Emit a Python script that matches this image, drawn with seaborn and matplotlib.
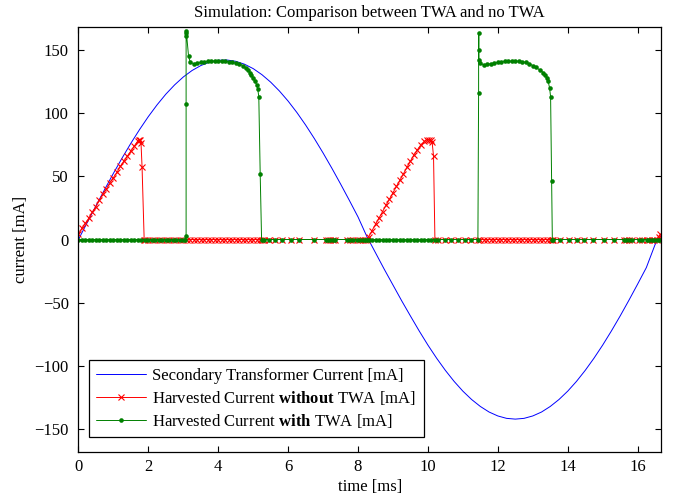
import numpy as np
import pandas as pd
import seaborn as sns
import matplotlib.pyplot as plt

# secondary transformer current (blue) [ms], [mA]
t_sec = [0.0, 0.25, 0.5, 0.75, 1.0, 1.25, 1.5, 1.75, 2.0, 2.25, 2.5, 2.75, 3.0, 3.25, 3.5, 3.75,
         4.0, 4.25, 4.5, 4.75, 5.0, 5.25, 5.5, 5.75, 6.0, 6.25, 6.5, 6.75, 7.0, 7.25, 7.5, 7.75,
         8.0, 8.25, 8.5, 8.75, 9.0, 9.25, 9.5, 9.75, 10.0, 10.25, 10.5, 10.75, 11.0, 11.25,
         11.5, 11.75, 12.0, 12.25, 12.5, 12.75, 13.0, 13.25, 13.5, 13.75, 14.0, 14.25, 14.5,
         14.75, 15.0, 15.25, 15.5, 15.75, 16.0, 16.25, 16.5, 16.67]
i_sec = [0, 13.4, 26.6, 39.6, 52.3, 64.5, 76.1, 87.0, 97.2, 106.5, 114.9, 122.2, 128.5, 133.6,
         137.5, 140.3, 141.7, 141.9, 140.9, 138.6, 135.1, 130.3, 124.4, 117.4, 109.4, 100.4,
         90.5, 79.8, 68.4, 56.4, 43.9, 31.0, 17.8, 2.5, -10.5, -23.5, -36, -48.5, -60.5, -72.3,
         -83.5, -93.9, -103.5, -112.2, -119.9, -126.5, -132.0, -136.4, -139.5, -141.4, -142,
         -141.4, -139.5, -136.4, -132.0, -126.5, -119.9, -112.2, -103.5, -93.9, -83.5, -72.3,
         -60.5, -48.1, -35.3, -22.2, -4, 3]

# harvested current WITHOUT TWA (red)
t_red_ramp1 = [0.0, 0.1, 0.2, 0.3, 0.4, 0.5, 0.6, 0.7, 0.8, 0.9, 1.0, 1.1, 1.2, 1.3, 1.4, 1.5, 1.6, 1.7,
               1.74, 1.77, 1.79, 1.82, 1.88]
i_red_ramp1 = [4, 9, 13, 17, 22, 26, 31, 36, 40, 45, 49, 53, 58, 62, 66, 70, 74, 78,
               79, 79, 76, 57, 0]
t_red_off1 = [1.9, 2.0, 2.1, 2.2, 2.3, 2.4, 2.5, 2.6, 2.7, 2.8, 2.9, 3.0, 3.1, 3.2, 3.3, 3.4, 3.5,
              3.6, 3.7, 3.8, 3.9, 4.0, 4.1, 4.2, 4.3, 4.4, 4.5, 4.6, 4.7, 4.8, 4.9, 5.0, 5.1, 5.2,
              5.25, 5.30, 5.45, 5.62, 5.81, 6.07, 6.32, 6.73, 7.07, 7.14, 7.21, 7.28, 7.35, 7.69,
              7.78, 7.87, 7.96, 8.05, 8.14, 8.2, 8.25]
t_red_ramp2 = [8.3, 8.4, 8.5, 8.6, 8.7, 8.8, 8.9, 9.0, 9.1, 9.2, 9.3, 9.4, 9.5, 9.6, 9.7, 9.8, 9.9,
               9.96, 10.02, 10.08, 10.12, 10.16, 10.2]
i_red_ramp2 = [2, 7, 12, 17, 22, 27, 32, 37, 42, 47, 52, 57, 62, 67, 71, 75, 77.5,
               79, 79, 79, 77, 66, 0]
t_red_off2 = [10.29, 10.48, 10.67, 10.86, 11.05, 11.24, 11.43, 11.5, 11.6, 11.7, 11.8, 11.9, 12.0,
              12.1, 12.2, 12.3, 12.4, 12.5, 12.6, 12.7, 12.8, 12.9, 13.0, 13.1, 13.2, 13.3, 13.4,
              13.5, 13.56, 13.58, 13.79, 14.03, 14.27, 14.48, 14.72, 15.03, 15.33, 15.6, 15.67,
              15.74, 15.84, 16.03, 16.12, 16.27, 16.34, 16.41, 16.48, 16.55]
t_red_end = [16.6, 16.65]
i_red_end = [2, 4]

# harvested current WITH TWA (green)
t_grn_off1 = [0.0, 0.1, 0.2, 0.3, 0.4, 0.5, 0.6, 0.7, 0.8, 0.9, 1.0, 1.1, 1.2, 1.3, 1.4, 1.5, 1.6,
              1.7, 1.8, 1.9, 2.0, 2.1, 2.2, 2.3, 2.4, 2.5, 2.6, 2.7, 2.8, 2.9, 3.0, 3.05]
t_grn_pulse1 = [3.08, 3.08, 3.08, 3.085, 3.09, 3.15, 3.2, 3.3, 3.4, 3.5, 3.6, 3.7, 3.8, 3.9, 4.0,
                4.1, 4.2, 4.3, 4.4, 4.5, 4.6, 4.7, 4.8, 4.85, 4.9, 4.95, 5.0, 5.05, 5.1, 5.13,
                5.16, 5.2, 5.24]
i_grn_pulse1 = [3, 107, 161, 165, 163, 145, 140, 139, 139.5, 140, 140.5, 141, 141, 141, 141,
                141, 141, 140.5, 140, 139.5, 139, 137.5, 135.5, 134, 132, 130, 128, 125.5, 122, 119,
                113, 52, 0]
t_grn_off2 = [5.30, 5.45, 5.62, 5.81, 6.07, 6.32, 6.73, 7.07, 7.14, 7.21, 7.28, 7.35, 7.69, 7.78,
              7.87, 7.96, 8.05, 8.14, 8.2, 8.25, 8.3, 8.4, 8.5, 8.6, 8.7, 8.8, 8.9, 9.0, 9.1, 9.2,
              9.3, 9.4, 9.5, 9.6, 9.7, 9.8, 9.9, 10.0, 10.1, 10.2, 10.29, 10.48, 10.67, 10.86,
              11.05, 11.24, 11.43]
t_grn_pulse2 = [11.45, 11.45, 11.455, 11.46, 11.5, 11.6, 11.7, 11.8, 11.9, 12.0, 12.1, 12.2, 12.3,
                12.4, 12.5, 12.6, 12.7, 12.8, 12.9, 13.0, 13.1, 13.2, 13.3, 13.35, 13.4, 13.44,
                13.48, 13.51, 13.54, 13.56]
i_grn_pulse2 = [116, 150, 163, 142, 139.5, 138, 138.5, 139, 139.5, 140, 140.5, 141, 141,
                141, 141, 141, 140.5, 140, 139, 137.5, 136, 134, 132, 130, 127.5, 125,
                120, 113, 46, 0]
t_grn_off3 = [13.58, 13.79, 14.03, 14.27, 14.48, 14.72, 15.03, 15.33, 15.6, 15.67, 15.74, 15.84,
              16.03, 16.12, 16.27, 16.34, 16.41, 16.48, 16.55, 16.62, 16.66]

x_ticks = [0, 2, 4, 6, 8, 10, 12, 14, 16]
y_ticks = [-150, -100, -50, 0, 50, 100, 150]

# stitch the pieces together, zeros where the current is off
t_red = t_red_ramp1 + t_red_off1 + t_red_ramp2 + t_red_off2 + t_red_end
i_red = i_red_ramp1 + [0] * len(t_red_off1) + i_red_ramp2 + [0] * len(t_red_off2) + i_red_end
t_grn = t_grn_off1 + t_grn_pulse1 + t_grn_off2 + t_grn_pulse2 + t_grn_off3
i_grn = ([0] * len(t_grn_off1) + i_grn_pulse1 + [0] * len(t_grn_off2) + i_grn_pulse2
         + [0] * len(t_grn_off3))

df_sec = pd.DataFrame({'t': t_sec, 'i': i_sec})
df_red = pd.DataFrame({'t': t_red, 'i': i_red})
df_grn = pd.DataFrame({'t': t_grn, 'i': i_grn})

sns.set_style('ticks')
plt.rcParams['font.family'] = ['Liberation Serif', 'DejaVu Serif']
plt.rcParams['font.size'] = 12
plt.rcParams['mathtext.fontset'] = 'custom'
plt.rcParams['mathtext.rm'] = 'Liberation Serif'
plt.rcParams['mathtext.bf'] = 'Liberation Serif:bold'
plt.rcParams['axes.edgecolor'] = 'black'
plt.rcParams['text.color'] = 'black'
plt.rcParams['xtick.color'] = 'black'
plt.rcParams['ytick.color'] = 'black'
plt.rcParams['axes.labelcolor'] = 'black'

fig = plt.figure(figsize=(6.73, 5.0), dpi=100)
ax = fig.add_axes([0.1166, 0.096, 0.8656, 0.85])

sns.lineplot(data=df_sec, x='t', y='i', color='blue', lw=0.7, estimator=None, sort=False,
             label='Secondary Transformer Current [mA]', ax=ax)
sns.lineplot(data=df_red, x='t', y='i', color='red', lw=0.7, estimator=None, sort=False,
             marker='x', ms=4.2, mew=0.8, mec='red',
             label='Harvested Current $\\mathbf{without}$ TWA [mA]', ax=ax)
sns.lineplot(data=df_grn, x='t', y='i', color='green', lw=0.7, estimator=None, sort=False,
             marker='o', ms=3.3, mew=0, mec='green',
             label='Harvested Current $\\mathbf{with}$ TWA [mA]', ax=ax)

ax.set_xlim(0, 16.67)
ax.set_ylim(-168, 168)
ax.set_xticks(x_ticks)
ax.set_yticks(y_ticks)
ax.tick_params(direction='in', top=True, right=True, length=4, width=0.8, labelsize=12)
ax.tick_params(axis='y', pad=7)
ax.tick_params(axis='x', pad=5)
for s in ax.spines.values():
    s.set_linewidth(0.9)
    s.set_visible(True)

ax.set_title('Simulation: Comparison between TWA and no TWA', fontsize=12, pad=7)
ax.set_xlabel('time [ms]', fontsize=12, labelpad=3)
ax.set_ylabel('current [mA]', fontsize=12, labelpad=4)

leg = ax.legend(loc='lower left', bbox_to_anchor=(0.018, 0.035), borderaxespad=0,
                fancybox=False, framealpha=1, edgecolor='black', fontsize=12,
                handlelength=3.0, handletextpad=0.35, borderpad=0.45, labelspacing=0.3)
leg.get_frame().set_linewidth(0.9)

fig.savefig('out.png', dpi=100)
